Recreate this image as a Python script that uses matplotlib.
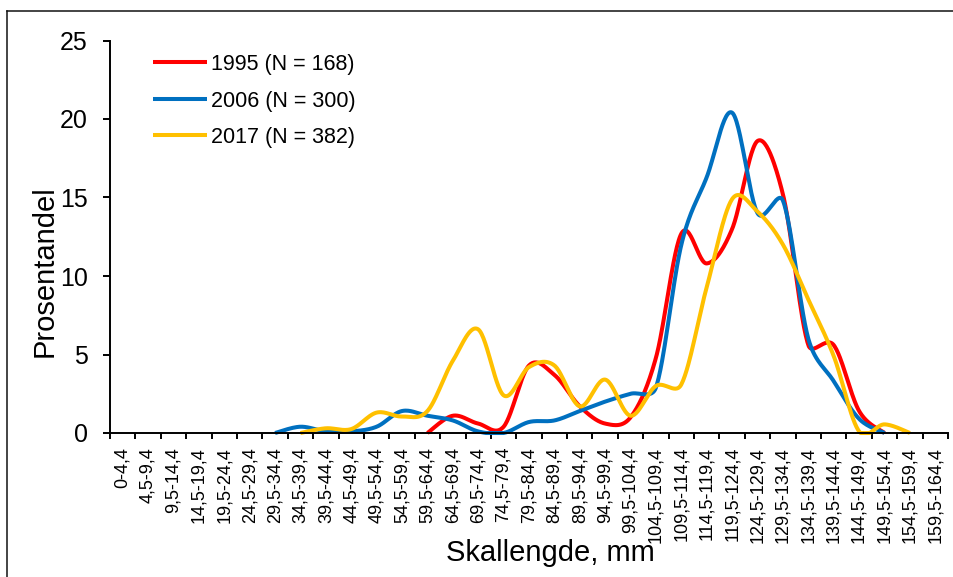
import matplotlib
matplotlib.use("Agg")
import matplotlib.pyplot as plt
import numpy as np
from matplotlib.lines import Line2D

plt.rcParams['font.family'] = ['Liberation Sans', 'DejaVu Sans']

# size classes (mm)
categories = ['0-4,4', '4,5-9,4', '9,5-14,4', '14,5-19,4', '19,5-24,4', '24,5-29,4',
              '29,5-34,4', '34,5-39,4', '39,5-44,4', '44,5-49,4', '49,5-54,4', '54,5-59,4',
              '59,5-64,4', '64,5-69,4', '69,5-74,4', '74,5-79,4', '79,5-84,4', '84,5-89,4',
              '89,5-94,4', '94,5-99,4', '99,5-104,4', '104,5-109,4', '109,5-114,4',
              '114,5-119,4', '119,5-124,4', '124,5-129,4', '129,5-134,4', '134,5-139,4',
              '139,5-144,4', '144,5-149,4', '149,5-154,4', '154,5-159,4', '159,5-164,4']

nan = np.nan
# percent per size class, nan = no value
y1995 = [nan, nan, nan, nan, nan, nan, nan, nan, nan, nan, nan, nan,
         0.0, 1.1, 0.6, 0.4, 4.3, 3.7, 1.7, 0.6, 1.0, 4.8, 12.7, 10.8,
         13.0, 18.6, 15.2, 5.6, 5.6, 1.4, 0.0, nan, nan]
y2006 = [nan, nan, nan, nan, nan, nan, 0.0, 0.4, 0.1, 0.1, 0.4, 1.4,
         1.1, 0.8, 0.1, 0.0, 0.7, 0.8, 1.4, 2.0, 2.5, 2.9, 12.0, 16.3,
         20.4, 14.0, 14.8, 6.0, 3.3, 0.9, 0.0, nan, nan]
y2017 = [nan, nan, nan, nan, nan, nan, nan, 0.0, 0.3, 0.25, 1.3, 1.05,
         1.4, 4.6, 6.6, 2.4, 4.2, 4.3, 1.7, 3.4, 1.1, 3.0, 3.1, 9.3,
         14.9, 14.1, 12.0, 8.5, 4.9, 0.1, 0.55, 0.0, nan]

labels = ['1995 (N = 168)', '2006 (N = 300)', '2017 (N = 382)']
colors = ['#FF0000', '#0070C0', '#FFC000']

# pixel size of one category / one percent, used for the smoothing
SX, SY = 838 / 33, 392.5 / 25


def smooth(vals, n=30):
    # excel-like smoothed line: bezier, control arm capped at half the segment
    vals = np.asarray(vals, dtype=float)
    idx = np.where(~np.isnan(vals))[0]
    pts = np.column_stack([idx * SX, vals[idx] * SY])
    P = np.vstack([pts[0], pts, pts[-1]])
    t = np.linspace(0, 1, n)[:, None]
    out = []
    for i in range(len(pts) - 1):
        p0, p1, p2, p3 = P[i], P[i + 1], P[i + 2], P[i + 3]
        d12 = np.hypot(*(p2 - p1))
        d02 = np.hypot(*(p2 - p0))
        d13 = np.hypot(*(p3 - p1))
        f1 = 1 / 6 if d02 / 6 < d12 / 2 else d12 / (2 * d02)
        f2 = 1 / 6 if d13 / 6 < d12 / 2 else d12 / (2 * d13)
        c1 = p1 + f1 * (p2 - p0)
        c2 = p2 - f2 * (p3 - p1)
        b = (1 - t) ** 3 * p1 + 3 * (1 - t) ** 2 * t * c1 + 3 * (1 - t) * t ** 2 * c2 + t ** 3 * p2
        out.append(b)
    b = np.vstack(out)
    return b[:, 0] / SX, np.clip(b[:, 1] / SY, 0, None)


fig = plt.figure(figsize=(9.54, 5.77), dpi=100)
ax = fig.add_axes([110 / 954, 1 - 433 / 577, 838 / 954, 392.5 / 577])

for vals, lab, col in zip([y1995, y2006, y2017], labels, colors):
    xs, ys = smooth(vals)
    ax.plot(xs, ys, color=col, lw=2.9, label=lab, clip_on=False, solid_capstyle='butt')

ax.set_xlim(-0.5, len(categories) - 0.5)
ax.set_ylim(0, 25)
ax.set_yticks([0, 5, 10, 15, 20, 25])
ax.set_xticks(range(len(categories)))
ax.set_xticklabels(categories, rotation=90, fontsize=13)
ax.set_xticks(np.arange(-0.5, len(categories)), minor=True)
ax.tick_params(axis='x', which='major', length=0, pad=10)
ax.tick_params(axis='x', which='minor', length=4.5, width=1.4, direction='out')
ax.tick_params(axis='y', length=5, width=1.4, direction='out', labelsize=18, pad=11)

for s in ['top', 'right']:
    ax.spines[s].set_visible(False)
for s in ['left', 'bottom']:
    ax.spines[s].set_linewidth(1.4)

fig.text(44.5 / 954, 1 - 271 / 577, 'Prosentandel', rotation=90, ha='center', va='center', fontsize=21)
fig.text(550 / 954, 1 - 553 / 577, 'Skallengde, mm', ha='center', va='center', fontsize=21)

ax.legend(loc='upper left', bbox_to_anchor=(153 / 954, 1 - 54 / 577), bbox_transform=fig.transFigure,
          frameon=False, fontsize=15.5, handlelength=2.5, handletextpad=0.2, labelspacing=0.72,
          borderpad=0, borderaxespad=0)

# chart border
fig.add_artist(Line2D([7.3 / 954, 7.3 / 954], [0, 1 - 10.7 / 577], color='#111111', lw=1.1))
fig.add_artist(Line2D([7.3 / 954, 1], [1 - 10.7 / 577, 1 - 10.7 / 577], color='#111111', lw=1.1))

fig.savefig('out.png', dpi=100)
